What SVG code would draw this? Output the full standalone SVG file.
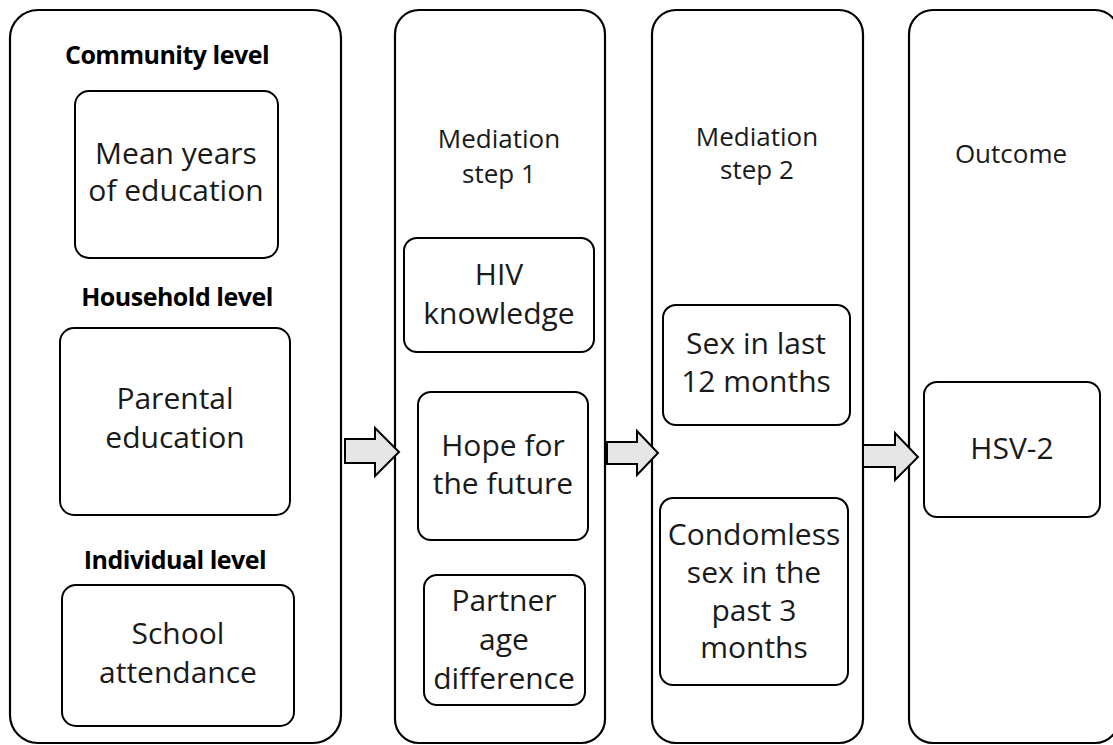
<svg xmlns="http://www.w3.org/2000/svg" width="1113" height="745" viewBox="0 0 1113 745">
<style>
.col{fill:#fff;stroke:#000;stroke-width:2.2}
.box{fill:#fff;stroke:#000;stroke-width:2}
.t{font-family:"Open Sans","Liberation Sans",sans-serif;font-size:30px;fill:#1a1a1a;text-anchor:middle}
.h{font-family:"Open Sans","Liberation Sans",sans-serif;font-size:25px;font-weight:bold;fill:#000;text-anchor:middle;letter-spacing:-0.5px}
.m{font-family:"Open Sans","Liberation Sans",sans-serif;font-size:26px;fill:#1a1a1a;text-anchor:middle}
.arr{fill:#e6e6e6;stroke:#000;stroke-width:2}
</style>
<rect width="1113" height="745" fill="#fff"/>
<g id="col-exposure">
<rect class="col" x="10" y="10" width="331" height="733" rx="28"/>
<text class="h" x="167" y="64">Community level</text>
<text class="h" x="177" y="306">Household level</text>
<text class="h" x="175" y="569">Individual level</text>
</g>
<g id="node-mean-years">
<rect class="box" x="75" y="91" width="203" height="167" rx="14"/>
<text class="t" x="176" y="164">Mean years</text>
<text class="t" x="176" y="201">of education</text>
</g>
<g id="node-parental">
<rect class="box" x="60" y="328" width="230" height="187" rx="14"/>
<text class="t" x="175" y="409">Parental</text>
<text class="t" x="175" y="448">education</text>
</g>
<g id="node-school">
<rect class="box" x="62" y="585" width="232" height="141" rx="14"/>
<text class="t" x="178" y="644">School</text>
<text class="t" x="178" y="683">attendance</text>
</g>
<g id="col-med1">
<rect class="col" x="395" y="10" width="210" height="733" rx="24"/>
<text class="m" x="499" y="148">Mediation</text>
<text class="m" x="499" y="183">step 1</text>
</g>
<g id="node-hiv">
<rect class="box" x="404" y="238" width="190" height="114" rx="13"/>
<text class="t" x="499" y="285">HIV</text>
<text class="t" x="499" y="324">knowledge</text>
</g>
<g id="node-hope">
<rect class="box" x="418" y="392" width="170" height="148" rx="13"/>
<text class="t" x="503" y="456">Hope for</text>
<text class="t" x="503" y="494">the future</text>
</g>
<g id="node-partner">
<rect class="box" x="424" y="575" width="161" height="130" rx="13"/>
<text class="t" x="504" y="611">Partner</text>
<text class="t" x="504" y="650">age</text>
<text class="t" x="504" y="689">difference</text>
</g>
<g id="col-med2">
<rect class="col" x="652" y="10" width="211" height="733" rx="24"/>
<text class="m" x="757" y="146">Mediation</text>
<text class="m" x="757" y="179">step 2</text>
</g>
<g id="node-sex12">
<rect class="box" x="663" y="305" width="187" height="120" rx="13"/>
<text class="t" x="756" y="354">Sex in last</text>
<text class="t" x="756" y="392">12 months</text>
</g>
<g id="node-condomless">
<rect class="box" x="660" y="498" width="188" height="187" rx="13"/>
<text class="t" x="754" y="545">Condomless</text>
<text class="t" x="754" y="583">sex in the</text>
<text class="t" x="754" y="621">past 3</text>
<text class="t" x="754" y="658">months</text>
</g>
<g id="col-outcome">
<rect class="col" x="909" y="10" width="210" height="733" rx="24"/>
<text class="m" x="1011" y="163">Outcome</text>
</g>
<g id="node-hsv2">
<rect class="box" x="924" y="382" width="176" height="135" rx="13"/>
<text class="t" x="1012" y="459">HSV-2</text>
</g>
<g id="connectors">
<polygon class="arr" points="345,439 375,439 375,428 399,452 375,476 375,463 345,463"/>
<polygon class="arr" points="607,442 637,442 637,431 658,453 637,475 637,464 607,464"/>
<polygon class="arr" points="863,445 895,445 895,433 918,457 895,480 895,467 863,467"/>
</g>
</svg>
